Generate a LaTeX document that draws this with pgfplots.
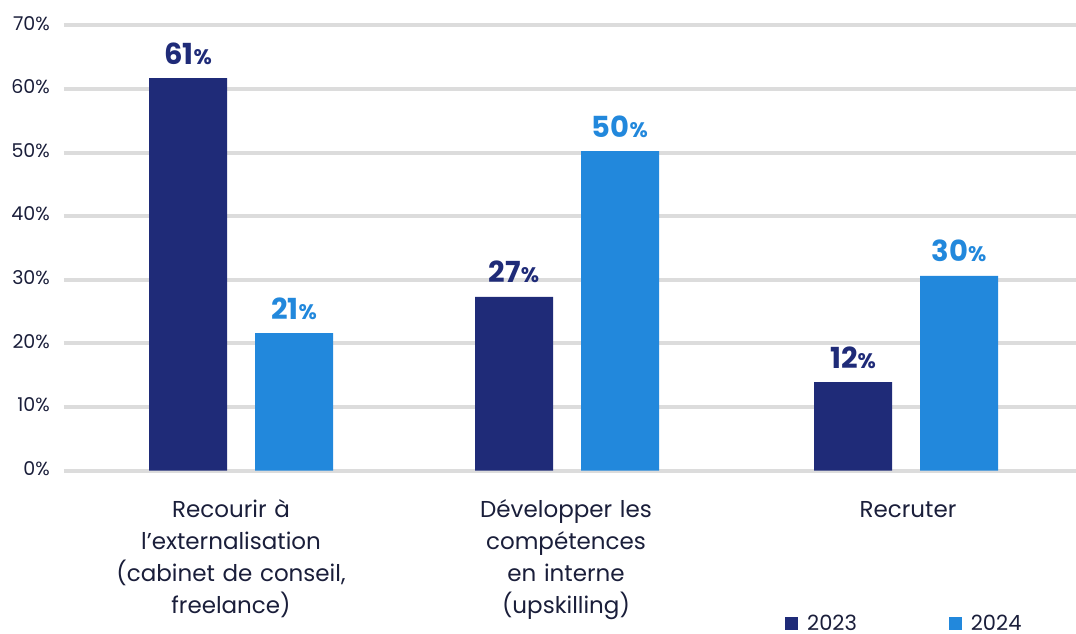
\documentclass[border=0pt]{standalone}
\usepackage{fontspec}
\setmainfont{Poppins}
\usepackage{pgfplots}
\usepackage{pgfplotstable}
\pgfplotsset{compat=1.18}

\definecolor{navy}{RGB}{31,43,120}
\definecolor{sky}{RGB}{34,136,220}
\definecolor{gridgrey}{RGB}{220,220,220}
\definecolor{ink}{RGB}{26,30,58}

% x = bar centre, y = bar height, lab = printed value
\pgfplotstableread{
x y lab
188 61.7 61
514 27.3 27
853 13.9 12
}\dataA
\pgfplotstableread{
x y lab
294 21.6 21
620 50.2 50
959 30.6 30
}\dataB

\begin{document}
\begin{tikzpicture}
\begin{axis}[
  x=1bp, y=6.36bp,
  xmin=64, xmax=1076,
  ymin=0, ymax=70,
  clip=false,
  axis line style={draw=none},
  tick style={draw=none},
  ymajorgrids,
  grid style={gridgrey, line width=4bp},
  ytick={0,10,...,70},
  yticklabel={\pgfmathprintnumber{\tick}\%},
  yticklabel style={anchor=east, inner sep=0pt, text=ink,
    font=\fontsize{19bp}{22bp}\selectfont, yshift=2bp},
  yticklabel shift=14bp,
  xtick={231,566,908},
  xticklabels={
    {\strut Recourir à\\l’externalisation\\(cabinet de conseil,\\freelance)},
    {\strut Développer les\\compétences\\en interne\\(upskilling)},
    {\strut Recruter}},
  xticklabel style={anchor=north, inner sep=0pt, text=ink, align=center,
    text width=260bp, font=\fontsize{23bp}{32bp}\selectfont},
  xticklabel shift=20bp,
  /pgf/number format/assume math mode=true,
  ybar,
  bar width=78bp,
  nodes near coords={\bfseries\fontsize{29bp}{30bp}\selectfont\pgfplotspointmeta{\fontsize{21bp}{24bp}\selectfont\%}},
  every node near coord/.append style={anchor=base, inner sep=0pt, yshift=14bp},
  point meta=explicit symbolic,
  legend columns=2,
  legend style={at={(axis cs:785,-24.0)}, anchor=west, draw=none, fill=none,
    inner sep=0pt, font=\fontsize{21bp}{24bp}\selectfont, text=ink,
    nodes={inner sep=0pt},
    /tikz/every even column/.append style={column sep=92bp}},
  legend image code/.code={\fill[#1] (0bp,-6.5bp) rectangle (13bp,6.5bp);},
  legend cell align=left,
]
\addplot+[bar shift=0pt, fill=navy, draw=none,
  every node near coord/.append style={text=navy}]
  table[x=x, y=y, meta=lab] {\dataA};
\addlegendentry{\hspace{9bp}2023}
\addplot+[bar shift=0pt, fill=sky, draw=none,
  every node near coord/.append style={text=sky}]
  table[x=x, y=y, meta=lab] {\dataB};
\addlegendentry{\hspace{9bp}2024}
\coordinate (bbl) at (axis cs:0,-25.55);
\coordinate (btr) at (axis cs:1076,73.98);
\end{axis}
\pgfresetboundingbox
\path[use as bounding box] (bbl) rectangle (btr);
\end{tikzpicture}
\end{document}
